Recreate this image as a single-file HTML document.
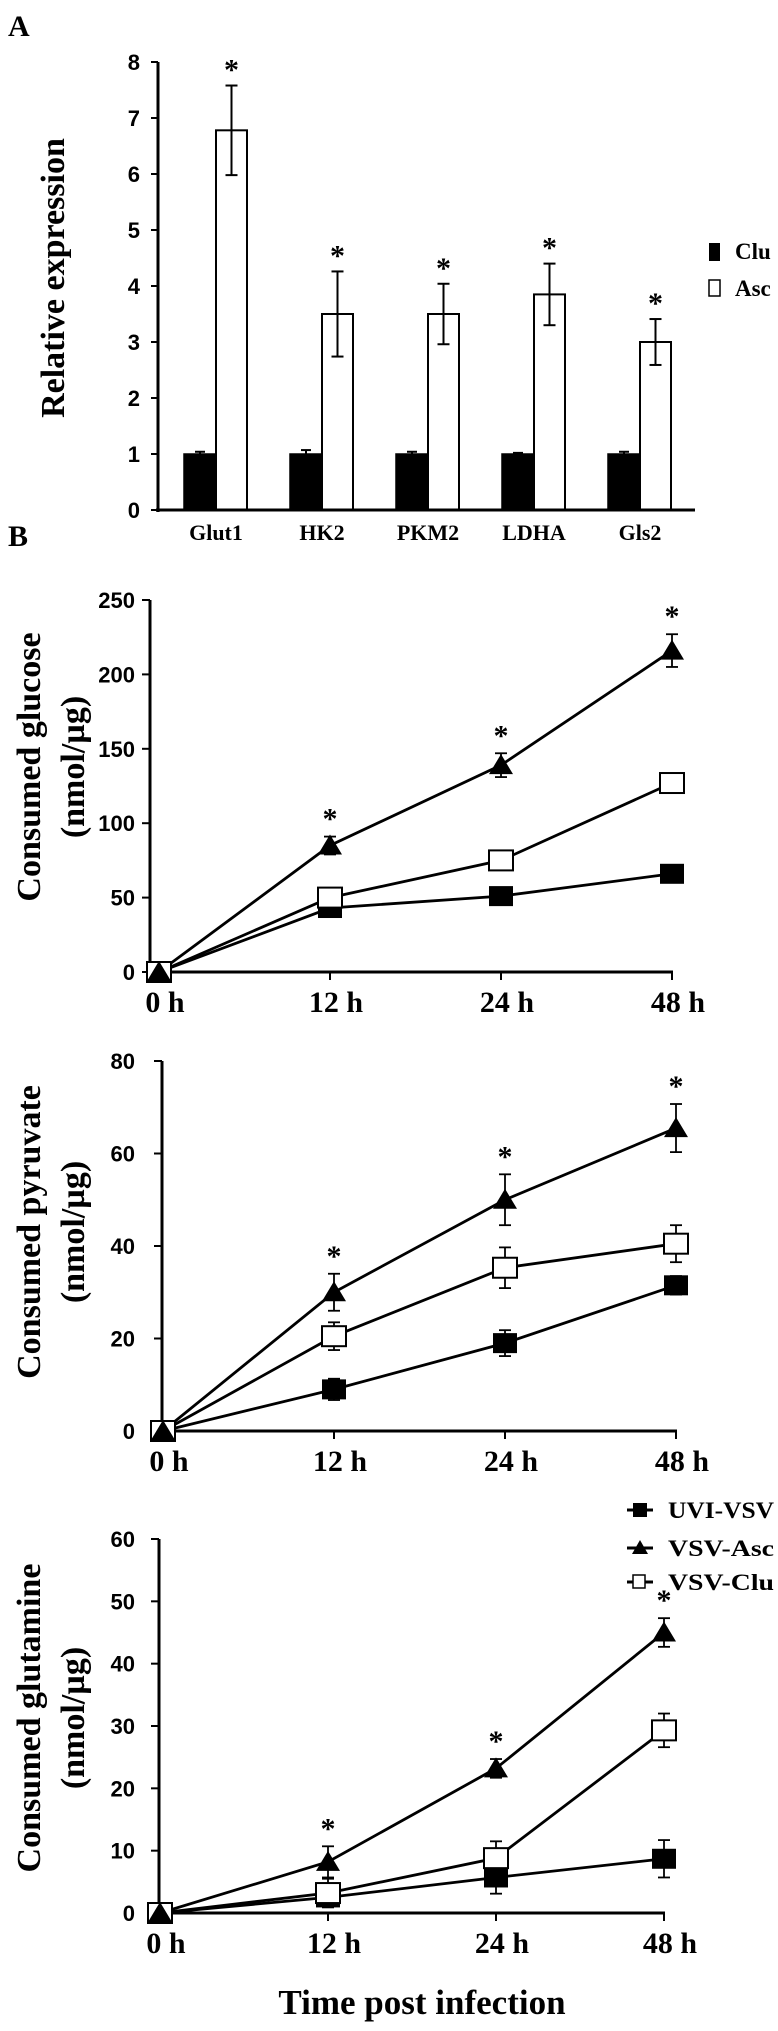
<!DOCTYPE html>
<html><head><meta charset="utf-8">
<style>
html,body{margin:0;padding:0;background:#fff;}
svg{display:block;}
.tk{font-family:"Liberation Sans",Arial,sans-serif;font-weight:bold;font-size:22px;}
.sf{font-family:"Liberation Serif","Times New Roman",serif;font-weight:bold;}
</style></head>
<body>
<svg id="fig" width="778" height="2031" viewBox="0 0 778 2031" xmlns="http://www.w3.org/2000/svg">
<text class="sf" x="8" y="36" font-size="30">A</text>
<text class="sf" x="8" y="546" font-size="30">B</text>
<text class="sf" font-size="34" text-anchor="middle" transform="translate(64,278) rotate(-90)">Relative expression</text>
<text class="sf" font-size="34" text-anchor="middle" transform="translate(40,767) rotate(-90)">Consumed glucose</text>
<text class="sf" font-size="34" text-anchor="middle" transform="translate(84,767) rotate(-90)">(nmol/µg)</text>
<text class="sf" font-size="34" text-anchor="middle" transform="translate(40,1232) rotate(-90)">Consumed pyruvate</text>
<text class="sf" font-size="34" text-anchor="middle" transform="translate(84,1232) rotate(-90)">(nmol/µg)</text>
<text class="sf" font-size="34" text-anchor="middle" transform="translate(40,1718) rotate(-90)">Consumed glutamine</text>
<text class="sf" font-size="34" text-anchor="middle" transform="translate(84,1718) rotate(-90)">(nmol/µg)</text>
<text class="sf" font-size="35" x="422" y="2014" text-anchor="middle">Time post infection</text>
</svg>
<script>
// Panel A data
const genes = ["Glut1","HK2","PKM2","LDHA","Gls2"];
const cluVals = [1,1,1,1,1];
const cluErr = [0.04,0.07,0.04,0.02,0.04];
const ascVals = [6.78,3.5,3.5,3.85,3.0];
const ascErr = [0.8,0.76,0.54,0.55,0.41];
const aTicks = [0,1,2,3,4,5,6,7,8];
// Panel B data
const times = ["0 h","12 h","24 h","48 h"];
const gluUVI = [0,43,51,66];
const gluAsc = [0,85,139,216];
const gluAscErr = [0,6,8,11];
const gluClu = [0,50,75,127];
const gluTicks = [0,50,100,150,200,250];
const pyrUVI = [0,9,19,31.5];
const pyrUVIErr = [0,2.3,2.8,2];
const pyrAsc = [0,30,50,65.5];
const pyrAscErr = [0,4,5.5,5.2];
const pyrClu = [0,20.5,35.3,40.5];
const pyrCluErr = [0,3,4.4,4];
const pyrTicks = [0,20,40,60,80];
const glnUVI = [0,2.5,5.7,8.7];
const glnUVIErr = [0,1.5,2.6,3];
const glnAsc = [0,8.2,23.2,45];
const glnAscErr = [0,2.5,1.5,2.3];
const glnClu = [0,3.2,8.8,29.3];
const glnCluErr = [0,2.3,2.7,2.7];
const glnTicks = [0,10,20,30,40,50,60];

const svg = document.getElementById('fig');
const NS = "http://www.w3.org/2000/svg";
function mk(tag, attrs, parent){
  const e = document.createElementNS(NS, tag);
  for (const k in attrs) e.setAttribute(k, attrs[k]);
  (parent||svg).appendChild(e);
  return e;
}
function line(x1,y1,x2,y2,w){ return mk('line',{x1:x1,y1:y1,x2:x2,y2:y2,stroke:'#000','stroke-width':w||2}); }
function txt(s,x,y,cls,size,anchor){
  const t = mk('text',{x:x,y:y,'class':cls,'font-size':size,'text-anchor':anchor||'middle'});
  t.textContent = s; return t;
}
function star(x,y){
  const t = txt('*',x,y,'sf',30,'middle');
  
  
}

// ---------- Panel A ----------
(function(){
  const ax = 158, y0 = 510, unit = 56, xEnd = 695;
  const yA = v => y0 - v*unit;
  const cx = i => 216 + i*106;
  const g = mk('g',{});
  
  
  const yl = line(ax, yA(8), ax, y0+2, 3);
  
  
  const xl = line(ax-2, y0, xEnd, y0, 3);
  
  
  aTicks.forEach(v=>{
    line(ax-7, yA(v), ax, yA(v), 2);
    const t = txt(String(v), 140, yA(v)+8, 'tk', 22, 'end');
    
    
  });
  genes.forEach((gname,i)=>{
    const c = cx(i);
    const b1 = mk('rect',{x:c-32,y:yA(cluVals[i]),width:32,height:y0-yA(cluVals[i]),fill:'#000',stroke:'#000','stroke-width':1.5},g);
    
    
    line(c-16, yA(cluVals[i]+cluErr[i]), c-16, yA(cluVals[i]), 2);
    line(c-21, yA(cluVals[i]+cluErr[i]), c-11, yA(cluVals[i]+cluErr[i]), 2);
    const b2 = mk('rect',{x:c,y:yA(ascVals[i]),width:31,height:y0-yA(ascVals[i]),fill:'#fff',stroke:'#000','stroke-width':2},g);
    
    
    const ex = c+15.5;
    line(ex, yA(ascVals[i]+ascErr[i]), ex, yA(ascVals[i]-ascErr[i]), 2);
    line(ex-6, yA(ascVals[i]+ascErr[i]), ex+6, yA(ascVals[i]+ascErr[i]), 2);
    line(ex-6, yA(ascVals[i]-ascErr[i]), ex+6, yA(ascVals[i]-ascErr[i]), 2);
    star(ex, yA(ascVals[i]+ascErr[i]) - 6);
    const l = txt(gname, c, 540, 'sf', 22, 'middle');
    
    
  });
  // legend
  const r1 = mk('rect',{x:709,y:243,width:11,height:18,fill:'#000'});
  
  
  const t1 = txt('Clu',735,259,'sf',23,'start');
  
  
  const r2 = mk('rect',{x:709,y:280,width:11,height:16,fill:'#fff',stroke:'#000','stroke-width':1.5});
  
  
  const t2 = txt('Asc',735,296,'sf',23,'start');
  
  
})();

// ---------- Line charts ----------
function marker(kind,x,y,name){
  let e;
  if (kind==='tri') e = mk('polygon',{points:(x-12)+','+(y+9)+' '+(x+12)+','+(y+9)+' '+x+','+(y-11),fill:'#000'});
  else if (kind==='fsq') e = mk('rect',{x:x-12,y:y-10,width:24,height:20,fill:'#000'});
  else e = mk('rect',{x:x-12,y:y-10,width:24,height:20,fill:'#fff',stroke:'#000','stroke-width':2});
  
  
}
function errbar(x,v,err,y,halfUp){
  if(!err) return;
  line(x, y(v+err), x, halfUp ? y(v) : y(v-err), 1.8);
  line(x-6, y(v+err), x+6, y(v+err), 1.8);
  if(!halfUp) line(x-6, y(v-err), x+6, y(v-err), 1.8);
}
function lineChart(cfg){
  const {name, ax, yTop, y0, vmax, x0, step, ticks, series} = cfg;
  const y = v => y0 - v/vmax*(y0-yTop);
  const xp = i => x0 + i*step;
  const ya = line(ax, yTop, ax, y0+2, 3);
  
  
  const xa = line(ax-2, y0, xp(3)+1, y0, 3);
  
  
  ticks.forEach(v=>{
    line(ax-8, y(v), ax, y(v), 2);
    const t = txt(String(v), 135, y(v)+8, 'tk', 22, 'end');
    
    
  });
  times.forEach((tl,i)=>{
    if(i>0) line(xp(i), y0, xp(i), y0+8, 2);
    const t = txt(tl, xp(i)+6, y0+40, 'sf', 30, 'middle');
    
    
  });
  series.forEach(s=>{
    const pts = s.vals.map((v,i)=>xp(i)+','+y(v)).join(' ');
    const pl = mk('polyline',{points:pts,fill:'none',stroke:'#000','stroke-width':2.8});
    
    
  });
  series.forEach(s=>{
    s.vals.forEach((v,i)=>{
      if (s.err) errbar(xp(i), v, s.err[i], y, s.half);
    });
  });
  series.forEach(s=>{
    s.vals.forEach((v,i)=>{
      marker(s.kind, xp(i), y(v), 'point-'+s.id+'-'+name);
      if (s.star && i>0) star(xp(i), y(v + (s.err? s.err[i]:0)) - 8);
    });
  });
}
lineChart({name:'glucose', ax:150, yTop:600, y0:972, vmax:250, x0:159, step:171, ticks:gluTicks, series:[
  {id:'uvi-vsv', vals:gluUVI, kind:'fsq'},
  {id:'vsv-clu', vals:gluClu, kind:'osq'},
  {id:'vsv-asc', vals:gluAsc, err:gluAscErr, kind:'tri', star:true}
]});
lineChart({name:'pyruvate', ax:162, yTop:1061, y0:1431, vmax:80, x0:163, step:171, ticks:pyrTicks, series:[
  {id:'uvi-vsv', vals:pyrUVI, err:pyrUVIErr, kind:'fsq'},
  {id:'vsv-clu', vals:pyrClu, err:pyrCluErr, kind:'osq'},
  {id:'vsv-asc', vals:pyrAsc, err:pyrAscErr, kind:'tri', star:true}
]});
lineChart({name:'glutamine', ax:159, yTop:1539, y0:1913, vmax:60, x0:160, step:168, ticks:glnTicks, series:[
  {id:'uvi-vsv', vals:glnUVI, err:glnUVIErr, kind:'fsq'},
  {id:'vsv-clu', vals:glnClu, err:glnCluErr, kind:'osq'},
  {id:'vsv-asc', vals:glnAsc, err:glnAscErr, kind:'tri', star:true}
]});

// Legend B
const legB = [["UVI-VSV","fsq",1510],["VSV-Asc","tri",1548],["VSV-Clu","osq",1582]];
legB.forEach(([lab,kind,yy])=>{
  line(627, yy, 653, yy, 3);
  let e;
  if (kind==='tri') e = mk('polygon',{points:'632,'+(yy+6)+' 648,'+(yy+6)+' 640,'+(yy-8),fill:'#000'});
  else if (kind==='fsq') e = mk('rect',{x:633,y:yy-7,width:14,height:14,fill:'#000'});
  else e = mk('rect',{x:633,y:yy-7,width:12,height:13,fill:'#fff',stroke:'#000','stroke-width':1.5});
  
  
  const t = txt(lab, 668, yy+8, 'sf', 23, 'start');
  t.setAttribute('textLength','106');
  t.setAttribute('lengthAdjust','spacingAndGlyphs');
  
  
});
</script>
</body></html>
